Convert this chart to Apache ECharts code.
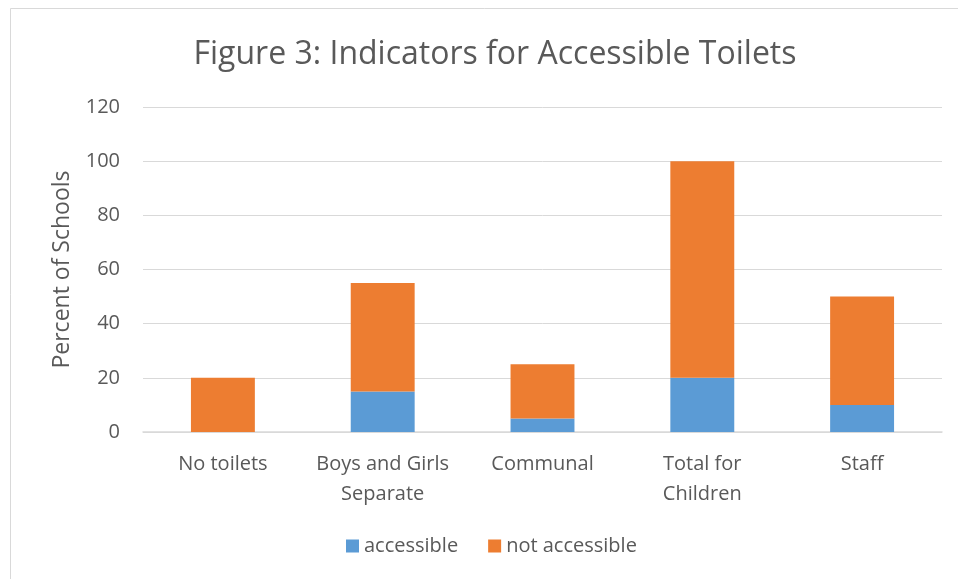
<!DOCTYPE html>
<html>
<head>
<meta charset="utf-8">
<script src="https://cdn.jsdelivr.net/npm/echarts@6/dist/echarts.min.js"></script>
<style>
  html, body { margin: 0; padding: 0; background: #fff; }
  #chart { width: 958px; height: 579px; }
</style>
</head>
<body>
<div id="chart"></div>
<script>
// Categories and stacked percentages
const categories = ['No toilets', 'Boys and Girls\nSeparate', 'Communal', 'Total for\nChildren', 'Staff'];
const accessible = [0, 15, 5, 20, 10];
const notAccessible = [20, 40, 20, 80, 40];
const yTicks = { min: 0, max: 120, interval: 20 };

const FONT = '"Open Sans", Lato, sans-serif';
const TEXT = '#595959';

const chart = echarts.init(document.getElementById('chart'), null, { renderer: 'canvas' });
chart.setOption({
  animation: false,
  backgroundColor: '#fff',
  textStyle: { fontFamily: FONT, color: TEXT },
  graphic: [{
    type: 'rect',
    shape: { x: 10.5, y: 8.5, width: 960, height: 600 },
    style: { fill: 'none', stroke: '#d9d9d9', lineWidth: 1 },
    silent: true
  }],
  title: {
    text: 'Figure 3: Indicators for Accessible Toilets',
    left: 490, top: 34, textAlign: 'center',
    textStyle: { fontFamily: FONT, fontSize: 32, fontWeight: 'normal', color: TEXT }
  },
  legend: {
    bottom: 18, left: 341,
    itemWidth: 13, itemHeight: 13, itemGap: 30, itemTextGap: 7,
    icon: 'rect',
    textStyle: { fontFamily: FONT, fontSize: 20, color: TEXT },
    data: ['accessible', 'not accessible']
  },
  grid: { left: 143, right: 16, top: 107, bottom: 147 },
  xAxis: {
    type: 'category',
    data: categories,
    axisLine: { lineStyle: { color: '#d9d9d9', width: 1.5 } },
    axisTick: { show: false },
    axisLabel: {
      fontFamily: FONT, fontSize: 20, color: TEXT, margin: 17, lineHeight: 30,
      interval: 0, hideOverlap: false
    }
  },
  yAxis: {
    type: 'value',
    min: yTicks.min, max: yTicks.max, interval: yTicks.interval,
    name: 'Percent of Schools',
    nameLocation: 'middle', nameGap: 69, nameRotate: 90,
    nameTextStyle: { fontFamily: FONT, fontSize: 23, color: TEXT },
    axisLine: { show: false },
    axisTick: { show: false },
    splitLine: { lineStyle: { color: '#d9d9d9', width: 1 } },
    axisLabel: { fontFamily: FONT, fontSize: 20, color: TEXT, margin: 23 }
  },
  series: [
    {
      name: 'accessible', type: 'bar', stack: 'total', barWidth: '40%',
      itemStyle: { color: '#5B9BD5' },
      data: accessible
    },
    {
      name: 'not accessible', type: 'bar', stack: 'total', barWidth: '40%',
      itemStyle: { color: '#ED7D31' },
      data: notAccessible
    }
  ]
});
</script>
</body>
</html>
